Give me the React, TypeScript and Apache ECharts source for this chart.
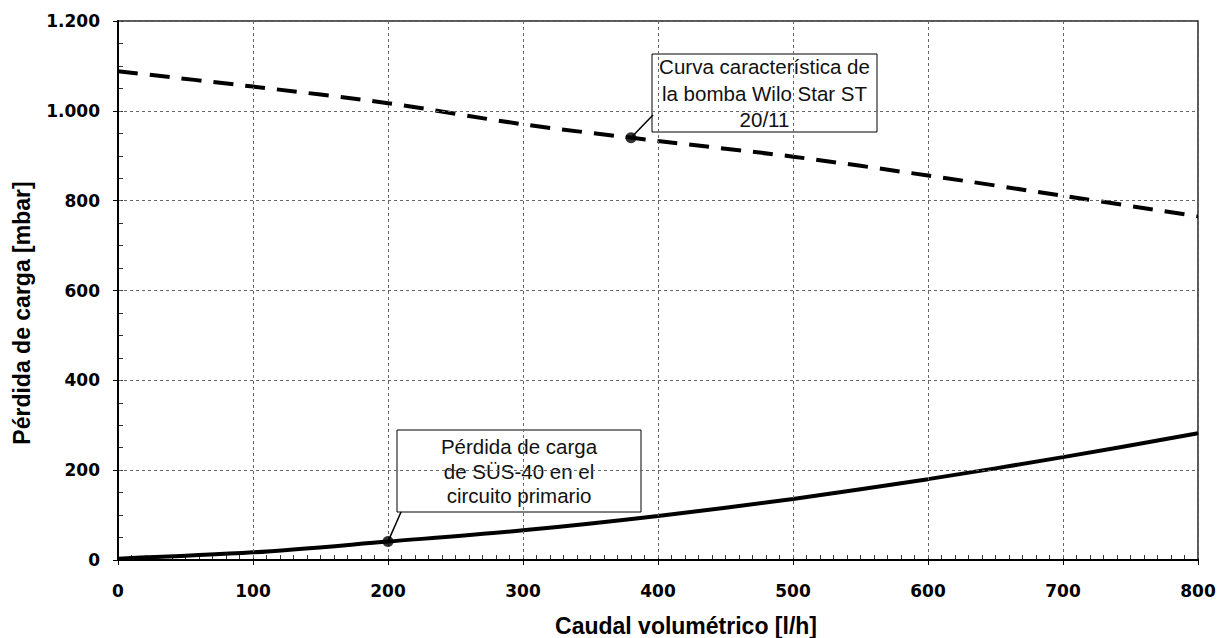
import React, { useEffect, useRef } from 'react';
import * as echarts from 'echarts';

// Caudal volumétrico [l/h]
const flowLh = [0, 100, 200, 300, 400, 500, 600, 700, 800];
// Curva característica de la bomba Wilo Star ST 20/11 [mbar]
const pumpCurveMbar = [1088, 1054, 1017, 970, 933, 898, 856, 811, 765];
// Pérdida de carga de SÜS-40 en el circuito primario [mbar]
const lossCurveMbar = [3, 17, 41, 66, 98, 136, 180, 229, 282];

// Annotation anchor points [flow, mbar]
const pumpAnchor = [380, 940];
const lossAnchor = [200, 41];

const pumpLabel = ['Curva característica de', 'la bomba Wilo Star ST', '20/11'];
const lossLabel = ['Pérdida de carga', 'de SÜS-40 en el', 'circuito primario'];

const xTitle = 'Caudal volumétrico [l/h]';
const yTitle = 'Pérdida de carga [mbar]';

const fmtThousands = (v: number) => {
  const s = String(Math.round(v));
  return s.replace(/\B(?=(\d{3})+(?!\d))/g, '.');
};

const tickFont = {
  fontFamily: 'DejaVu Sans',
  fontWeight: 'bold' as const,
  fontSize: 17,
  color: '#000',
};

export default function App() {
  const ref = useRef<HTMLDivElement>(null);

  useEffect(() => {
    if (!ref.current) return;
    const chart = echarts.init(ref.current, undefined, { renderer: 'svg' });
    const pair = (xs: number[], ys: number[]) => xs.map((x, i) => [x, ys[i]]);

    const xBase = { type: 'value', min: 0, max: 800, interval: 100 };
    const yBase = { type: 'value', min: 0, max: 1200, interval: 200 };
    const minorOnly = (split: number) => ({
      axisLine: { show: false },
      axisTick: { show: true, inside: true, length: 5, lineStyle: { color: '#333', width: 1 } },
      minorTick: { show: true, splitNumber: split, length: 5, lineStyle: { color: '#333', width: 1 } },
      splitLine: { show: false },
      axisLabel: { show: false },
    });

    chart.setOption({
      animation: false,
      backgroundColor: '#fff',
      grid: {
        left: 118,
        right: 22,
        top: 21,
        bottom: 78,
        show: true,
        borderColor: '#222',
        borderWidth: 1.5,
        containLabel: false,
      },
      xAxis: [
        {
          ...xBase,
          position: 'bottom',
          axisLine: { show: true, lineStyle: { color: '#000', width: 2 } },
          axisTick: { show: true, length: 5, lineStyle: { color: '#000', width: 1 } },
          splitLine: { show: true, lineStyle: { type: [3, 3], color: '#666', width: 1 } },
          axisLabel: { ...tickFont, margin: 22 },
          z: 4,
        },
        { ...xBase, position: 'bottom', ...minorOnly(10) },
      ],
      yAxis: [
        {
          ...yBase,
          position: 'left',
          axisLine: { show: true, lineStyle: { color: '#000', width: 2 } },
          axisTick: { show: true, length: 5, lineStyle: { color: '#000', width: 1 } },
          splitLine: { show: true, lineStyle: { type: [3, 3], color: '#666', width: 1 } },
          axisLabel: { ...tickFont, margin: 18, formatter: (v: number) => fmtThousands(v) },
          z: 4,
        },
        { ...yBase, position: 'left', ...minorOnly(4) },
      ],
      series: [
        {
          type: 'line',
          data: pair(flowLh, pumpCurveMbar),
          smooth: 0.3,
          showSymbol: false,
          lineStyle: { color: '#000', width: 4, type: [20, 12] },
          z: 3,
        },
        {
          type: 'line',
          data: pair(flowLh, lossCurveMbar),
          smooth: 0.3,
          showSymbol: false,
          lineStyle: { color: '#000', width: 4 },
          z: 3,
        },
        {
          type: 'scatter',
          data: [pumpAnchor, lossAnchor],
          symbolSize: 11,
          itemStyle: { color: '#000' },
          z: 5,
        },
      ],
    });

    const p1 = chart.convertToPixel({ xAxisIndex: 0, yAxisIndex: 0 }, pumpAnchor) as number[];
    const p2 = chart.convertToPixel({ xAxisIndex: 0, yAxisIndex: 0 }, lossAnchor) as number[];

    const box = (x: number, y: number, w: number, h: number, lines: string[], lh: number) => ({
      type: 'group',
      z: 20,
      children: [
        {
          type: 'rect',
          shape: { x, y, width: w, height: h },
          style: { fill: '#fff', stroke: '#000', lineWidth: 1 },
        },
        {
          type: 'text',
          x: x + w / 2,
          y: y + h / 2,
          style: {
            text: lines.join('\n'),
            fill: '#111',
            fontFamily: 'Liberation Sans',
            fontSize: 20.5,
            lineHeight: lh,
            align: 'center',
            verticalAlign: 'middle',
          },
        },
      ],
    });

    chart.setOption({
      graphic: [
        {
          type: 'line',
          z: 10,
          shape: { x1: 653, y1: 115, x2: p1[0], y2: p1[1] },
          style: { stroke: '#000', lineWidth: 1.5 },
        },
        {
          type: 'line',
          z: 10,
          shape: { x1: 401, y1: 512, x2: p2[0], y2: p2[1] },
          style: { stroke: '#000', lineWidth: 1.5 },
        },
        box(652, 54, 225, 78, pumpLabel, 26.5),
        box(397, 430, 244, 82, lossLabel, 24.5),
        {
          type: 'text',
          x: 686,
          y: 626,
          style: {
            text: xTitle,
            fill: '#000',
            fontFamily: 'Liberation Sans',
            fontWeight: 'bold',
            fontSize: 23,
            align: 'center',
            verticalAlign: 'middle',
          },
        },
        {
          type: 'text',
          x: 22,
          y: 313,
          rotation: Math.PI / 2,
          style: {
            text: yTitle,
            fill: '#000',
            fontFamily: 'Liberation Sans',
            fontWeight: 'bold',
            fontSize: 23,
            align: 'center',
            verticalAlign: 'middle',
          },
        },
      ],
    });

    return () => chart.dispose();
  }, []);

  return (
    <div
      ref={ref}
      style={{ position: 'fixed', left: 0, top: 0, width: 1220, height: 638, background: '#fff' }}
    />
  );
}
